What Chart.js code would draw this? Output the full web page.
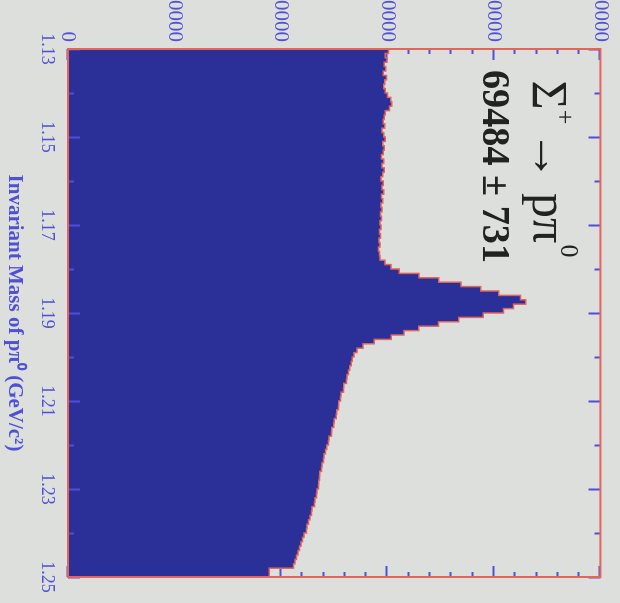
<!DOCTYPE html>
<html>
<head>
<meta charset="utf-8">
<script src="https://cdn.jsdelivr.net/npm/chart.js@4/dist/chart.umd.min.js"></script>
<style>
  html, body { margin: 0; padding: 0; width: 620px; height: 603px; overflow: hidden; background: #dcdfdb; }
  /* the histogram is laid out landscape and turned a quarter turn clockwise */
  #wrap { position: absolute; left: 0; top: 0; width: 623px; height: 620px;
          transform-origin: 0 0; transform: translate(620px, -20px) rotate(90deg); }
</style>
</head>
<body>
<div id="wrap"><canvas id="c" width="623" height="620"></canvas></div>
<script>
// Invariant mass of p pi0 candidates, 1 MeV bins from 1.13 to 1.25 GeV/c^2
const massRange = [1.13, 1.25];
const counts = [
  29900, 30100, 29800, 29950, 29700, 29850, 29600, 29900, 29750, 29650,
  29800, 30000, 30300, 30400, 30200, 29800, 29700, 29600, 29750, 29500,
  29650, 29800, 29550, 29700, 29600, 29450, 29650, 29500, 29700, 29550,
  29400, 29600, 29500, 29650, 29450, 29550, 29400, 29500, 29350, 29450,
  29300, 29400, 29250, 29350, 29200, 29300, 29150, 29250, 29300, 29770,
  30340, 31100, 32960, 34830, 36900, 38760, 40450, 42500, 42980, 41850,
  40900, 39000, 36700, 34800, 32950, 31550, 30350, 28750, 27700, 27150,
  26870, 26700, 26590, 26450, 26350, 26200, 26150, 25900, 25880, 25650,
  25580, 25420, 25400, 25250, 25200, 25000, 24950, 24780, 24750, 24520,
  24470, 24300, 24180, 24050, 24000, 23850, 23800, 23650, 23620, 23560,
  23520, 23380, 23330, 23200, 23150, 22920, 22870, 22720, 22580, 22450,
  22400, 22170, 22020, 21880, 21750, 21600, 21460, 21330, 21180, 18900
];

const massTickValues = [1.13, 1.15, 1.17, 1.19, 1.21, 1.23, 1.25];
const massTickLabels = ['1.13', '1.15', '1.17', '1.19', '1.21', '1.23', '1.25'];
const massMinorTicks = [1.14, 1.16, 1.18, 1.20, 1.22, 1.24];
const countTickValues = [0, 10000, 20000, 30000, 40000, 50000];
const countTickLabels = ['0', '10000', '20000', '30000', '40000', '50000'];
const countMinorStep = 2000;
const massTitle = 'Invariant Mass of p\u03C0\u2070 (GeV/c\u00B2)';
const fitYield = '69484 \u00B1 731';

// stepped outline: one point per lower bin edge, plus the closing edge
const binWidth = (massRange[1] - massRange[0]) / counts.length;
const points = counts.map((c, i) => ({ x: massRange[0] + i * binWidth, y: c }));
points.push({ x: massRange[1], y: counts[counts.length - 1] });

const ink = '#5050d6';
const serif = "'Liberation Serif', 'Times New Roman', serif";

const axisTicks = {
  id: 'axisTicks',
  beforeDatasetsDraw(chart) {
    const { ctx, chartArea: a, scales: { y } } = chart;
    ctx.save();
    ctx.strokeStyle = ink;
    ctx.lineWidth = 2;
    ctx.beginPath();
    for (let c = 0; c <= 50000; c += countMinorStep) {
      const v = Math.round(y.getPixelForValue(c)) + 0.5;
      const len = c % 10000 === 0 ? 11 : 5;
      ctx.moveTo(a.left, v); ctx.lineTo(a.left + len, v);
      ctx.moveTo(a.right, v); ctx.lineTo(a.right - len, v);
    }
    ctx.stroke();
    ctx.restore();
  },
  afterDatasetsDraw(chart) {
    const { ctx, chartArea: a, scales: { x } } = chart;
    ctx.save();
    ctx.strokeStyle = ink;
    ctx.lineWidth = 2;
    ctx.beginPath();
    massTickValues.forEach(m => {
      const u = Math.round(x.getPixelForValue(m)) + 0.5;
      ctx.moveTo(u, a.top); ctx.lineTo(u, a.top + 12);
      ctx.moveTo(u, a.bottom); ctx.lineTo(u, a.bottom - 12);
    });
    massMinorTicks.forEach(m => {
      const u = Math.round(x.getPixelForValue(m)) + 0.5;
      ctx.moveTo(u, a.top); ctx.lineTo(u, a.top + 6);
      ctx.moveTo(u, a.bottom); ctx.lineTo(u, a.bottom - 6);
    });
    ctx.stroke();

    // red frame
    ctx.strokeStyle = '#e4645a';
    ctx.lineWidth = 2;
    ctx.strokeRect(a.left, a.top, a.right - a.left, a.bottom - a.top);

    // decay label: Sigma+ -> p pi0
    ctx.fillStyle = '#222222';
    ctx.textBaseline = 'alphabetic';
    ctx.textAlign = 'center';
    const base1 = a.top + 67;
    const u0 = a.left;
    const pieces = [
      { t: '\u03A3', size: 50, du: 46, dv: 0 },
      { t: '+', size: 26, du: 68, dv: -24 },
      { t: '\u2192', size: 50, du: 107, dv: 0 },
      { t: 'p\u03C0', size: 50, du: 169, dv: 0 },
      { t: '0', size: 26, du: 202, dv: -28 }
    ];
    pieces.forEach(p => {
      ctx.font = p.size + 'px ' + serif;
      ctx.fillText(p.t, u0 + p.du, base1 + p.dv);
    });

    // fitted signal yield
    ctx.font = 'bold 40px ' + serif;
    ctx.textAlign = 'left';
    const w = ctx.measureText(fitYield).width;
    ctx.save();
    ctx.translate(u0 + 21, a.top + 117);
    ctx.scale(193 / w, 1);
    ctx.fillText(fitYield, 0, 0);
    ctx.restore();
    ctx.restore();
  }
};

new Chart(document.getElementById('c'), {
  type: 'line',
  data: {
    datasets: [{
      data: points,
      stepped: 'after',
      fill: 'origin',
      backgroundColor: '#2b2f98',
      borderColor: '#e0645c',
      borderWidth: 1.5,
      pointRadius: 0
    }]
  },
  options: {
    responsive: false,
    animation: false,
    devicePixelRatio: 1,
    layout: { padding: { left: 0, right: 26, top: 18, bottom: 0 } },
    plugins: { legend: { display: false }, tooltip: { enabled: false } },
    scales: {
      x: {
        type: 'linear',
        position: 'bottom',
        min: massRange[0],
        max: massRange[1],
        afterBuildTicks: s => { s.ticks = massTickValues.map(v => ({ value: v })); },
        afterFit: s => { s.height = 68; },
        grid: { display: false, drawTicks: false },
        border: { display: false },
        ticks: {
          padding: 10, color: ink, autoSkip: false, maxRotation: 0,
          font: { family: serif, size: 18 },
          callback: (v, i) => massTickLabels[i]
        },
        title: {
          display: true, text: massTitle, color: ink,
          font: { family: serif, size: 21, weight: 'bold' },
          padding: { top: 0, bottom: 2 }
        }
      },
      y: {
        min: 0,
        max: 50000,
        afterBuildTicks: s => { s.ticks = countTickValues.map(v => ({ value: v })); },
        afterFit: s => { s.width = 69; },
        grid: { display: false, drawTicks: false },
        border: { display: false },
        ticks: {
          padding: 7, color: ink, autoSkip: false,
          font: { family: serif, size: 21 },
          callback: (v, i) => countTickLabels[i]
        }
      }
    }
  },
  plugins: [axisTicks]
});
</script>
</body>
</html>
